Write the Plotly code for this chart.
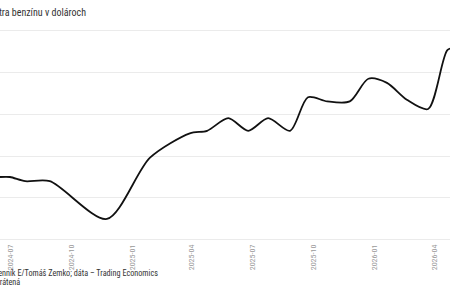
import plotly.graph_objects as go

dates = ["2024-06-16", "2024-07-01", "2024-07-24", "2024-08-30", "2024-11-24",
         "2025-01-28", "2025-03-29", "2025-04-24", "2025-05-26", "2025-06-25",
         "2025-07-25", "2025-08-27", "2025-09-23", "2025-10-22", "2025-11-25",
         "2025-12-23", "2026-01-20", "2026-02-19", "2026-03-23", "2026-04-21",
         "2026-05-03"]
prices = [1.675, 1.675, 1.670, 1.670, 1.625,
          1.698, 1.727, 1.730, 1.745, 1.730,
          1.745, 1.730, 1.770, 1.765, 1.765,
          1.792, 1.787, 1.767, 1.756, 1.826,
          1.829]
tick_vals = ["2024-07-01", "2024-10-01", "2025-01-01", "2025-04-01", "2025-07-01",
             "2025-10-01", "2026-01-01", "2026-04-01"]
tick_text = ["2024-07", "2024-10", "2025-01", "2025-04", "2025-07",
             "2025-10", "2026-01", "2026-04"]
y_ticks = [1.60, 1.65, 1.70, 1.75, 1.80, 1.85]

title_text = "Cena litra benzínu v dolároch"
source_line1 = "Graf: Denník E/Tomáš Zemko; dáta – Trading Economics"
source_line2 = "Os y je skrátená"

cond = "Roboto Condensed, Liberation Sans Narrow, DejaVu Sans Condensed, Roboto, sans-serif"

fig = go.Figure()
fig.add_trace(go.Scatter(x=dates, y=prices, mode="lines",
                         line=dict(color="#111111", width=1.8, shape="spline", smoothing=0.8),
                         hoverinfo="skip"))

W = 450.0
fig.update_layout(
    width=450, height=300,
    margin=dict(l=0, r=0, t=28, b=58),
    paper_bgcolor="white", plot_bgcolor="white",
    showlegend=False,
    xaxis=dict(range=["2024-06-16", "2026-04-25"], tickvals=tick_vals, ticktext=tick_text,
               tickangle=-90, tickfont=dict(family=cond, size=8, color="#999999"),
               showgrid=False, zeroline=False, showline=False, ticks="", automargin=False),
    yaxis=dict(range=[1.5976, 1.8524], tickvals=y_ticks, showticklabels=False,
               gridcolor="#ebebeb", gridwidth=1, zeroline=False, showline=False,
               ticks="", automargin=False),
    annotations=[
        dict(text=title_text, xref="paper", yref="paper", x=-30 / W, y=1.0, yshift=16,
             xanchor="left", yanchor="middle", showarrow=False,
             font=dict(family=cond, size=10, color="#333333")),
        dict(text=source_line1, xref="paper", yref="paper", x=-26 / W, y=0, yshift=-31,
             xanchor="left", yanchor="middle", showarrow=False, align="left",
             font=dict(family=cond, size=8.2, color="#333333")),
        dict(text=source_line2, xref="paper", yref="paper", x=-33 / W, y=0, yshift=-40,
             xanchor="left", yanchor="middle", showarrow=False, align="left",
             font=dict(family=cond, size=8.2, color="#333333")),
    ],
)

fig.write_html("out.html")
